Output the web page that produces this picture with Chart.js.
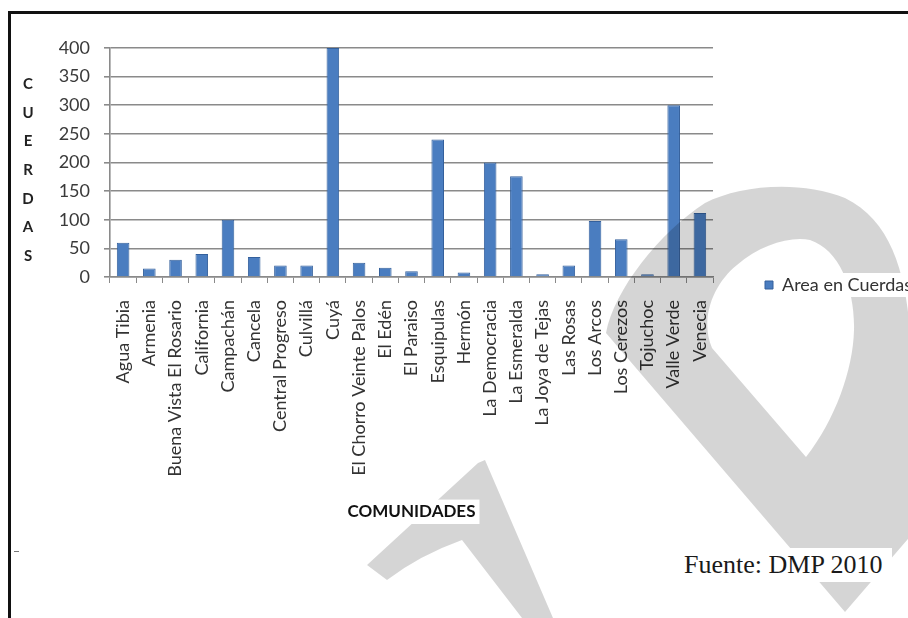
<!DOCTYPE html>
<html>
<head>
<meta charset="utf-8">
<script src="https://cdn.jsdelivr.net/npm/chart.js@4.4.1/dist/chart.umd.min.js"></script>
<style>
  html, body { margin: 0; padding: 0; background: #fff; width: 908px; height: 618px; overflow: hidden; }
  #wrap { position: absolute; left: 0; top: 0; width: 922px; height: 618px; }
  .frame-top { position: absolute; left: 8px; top: 11px; width: 900px; height: 3px; background: #111; }
  .frame-left { position: absolute; left: 8px; top: 11px; width: 3px; height: 607px; background: #111; }
  .dash { position: absolute; left: 14px; top: 551px; width: 5px; height: 1px; background: #777; }
  #ytitle { position: absolute; left: 16px; top: 69px; width: 24px; text-align: center;
            font: bold 15px Lato, sans-serif; color: #222; }
  #ytitle div { height: 28.67px; line-height: 28.67px; }
  #fuente { position: absolute; left: 674px; top: 548px; padding: 1px 10px; background: #fff;
            font: 26px "Liberation Serif", serif; line-height: 32px; color: #1a1a1a; }
</style>
</head>
<body>
<div id="wrap"><canvas id="chart"></canvas></div>
<div class="frame-top"></div>
<div class="frame-left"></div>
<div class="dash"></div>
<div id="ytitle"></div>
<div id="fuente">Fuente: DMP 2010</div>
<script>
// datos del grafico
const comunidades = ['Agua Tibia', 'Armenia', 'Buena Vista El Rosario', 'California', 'Campachán',
  'Cancela', 'Central Progreso', 'Culvillá', 'Cuyá', 'El Chorro Veinte Palos', 'El Edén',
  'El Paraiso', 'Esquipulas', 'Hermón', 'La Democracia', 'La Esmeralda', 'La Joya de Tejas',
  'Las Rosas', 'Los Arcos', 'Los Cerezos', 'Tojuchoc', 'Valle Verde', 'Venecia'];
const areaCuerdas = [60, 15, 30, 40, 100, 35, 20, 20, 400, 25, 16, 10, 240, 8, 200, 176, 5,
  20, 98, 66, 5, 300, 112];
const serieNombre = 'Area en Cuerdas';
const ejeY = 'CUERDAS';
const ejeX = 'COMUNIDADES';

document.getElementById('ytitle').innerHTML =
  ejeY.split('').map(l => '<div>' + l + '</div>').join('');

const gris = '#8a8a8a';
const azul = '#4a7dc0';

// marca de agua gris encima de las barras
const marcaAgua = {
  id: 'marcaAgua',
  afterDatasetsDraw(chart) {
    const ctx = chart.ctx;
    ctx.save();
    const p = new Path2D();
    // la "P" grande de la derecha
    p.moveTo(845, 612);
    p.lineTo(606, 333);
    p.bezierCurveTo(614, 290, 660, 232, 705, 203);
    p.bezierCurveTo(740, 185, 800, 180, 845, 198);
    p.bezierCurveTo(890, 220, 905, 270, 910, 330);
    p.bezierCurveTo(915, 400, 925, 470, 920, 525);
    p.closePath();
    // hueco
    p.moveTo(806, 457);
    p.lineTo(712, 348);
    p.bezierCurveTo(700, 320, 712, 285, 737, 265);
    p.bezierCurveTo(760, 245, 790, 236, 810, 240);
    p.bezierCurveTo(840, 250, 855, 290, 854, 330);
    p.bezierCurveTo(853, 370, 835, 420, 806, 457);
    p.closePath();
    // pata inferior
    p.moveTo(485, 460);
    p.lineTo(553, 618);
    p.lineTo(522, 618);
    p.lineTo(462, 540);
    p.quadraticCurveTo(420, 555, 387, 580);
    p.lineTo(367, 565);
    p.lineTo(478, 463);
    p.closePath();
    ctx.fillStyle = 'rgba(0,0,0,0.165)';
    ctx.fill(p, 'evenodd');

    // cajas blancas del titulo X y la leyenda
    const xs = chart.scales.x;
    const f = Chart.helpers.toFont(xs.options.title.font);
    ctx.font = f.string;
    const tw = ctx.measureText(ejeX).width;
    const tx = (xs.left + xs.right) / 2;
    const ty = xs.bottom - f.lineHeight / 2;
    ctx.fillStyle = '#fff';
    ctx.fillRect(tx - tw / 2 - 4, ty - f.lineHeight / 2 - 2, tw + 8, f.lineHeight + 4);
    ctx.fillStyle = xs.options.title.color;
    ctx.textAlign = 'center';
    ctx.textBaseline = 'middle';
    ctx.fillText(ejeX, tx, ty);

    ctx.fillStyle = '#fff';
    chart.legend.legendHitBoxes.forEach(b => {
      ctx.fillRect(b.left - 4, b.top - 3, b.width + 8, b.height + 6);
    });
    ctx.restore();
    chart.legend.draw();
  }
};

new Chart(document.getElementById('chart'), {
  type: 'bar',
  data: {
    labels: comunidades,
    datasets: [{
      label: serieNombre,
      data: areaCuerdas,
      backgroundColor: azul,
      borderColor: '#34609c',
      borderWidth: 1,
      barPercentage: 0.48,
      categoryPercentage: 1.0
    }]
  },
  options: {
    responsive: true,
    maintainAspectRatio: false,
    animation: false,
    layout: { padding: { top: 48, left: 50, right: 0, bottom: 96 } },
    plugins: {
      tooltip: { enabled: false },
      legend: {
        position: 'right',
        labels: {
          boxWidth: 8,
          boxHeight: 8,
          padding: 52,
          color: '#333',
          font: { family: 'Lato', size: 18 }
        }
      }
    },
    scales: {
      y: {
        min: 0,
        max: 400,
        ticks: { stepSize: 50, padding: 14, color: '#3a3a3a', font: { family: 'Lato', size: 18 } },
        grid: { color: gris, lineWidth: 1.6, tickLength: 6 },
        border: { color: gris, width: 1.6 },
        afterFit(scale) { scale.width = 60; }
      },
      x: {
        ticks: {
          autoSkip: false,
          minRotation: 90,
          maxRotation: 90,
          padding: 17,
          color: '#333',
          font: { family: 'Lato', size: 18 }
        },
        grid: { drawOnChartArea: false, color: gris, tickLength: 6 },
        border: { color: gris, width: 1.6 },
        title: {
          display: true,
          text: ejeX,
          color: '#111',
          padding: 0,
          font: { family: 'Lato', size: 17, weight: 'bold', lineHeight: 1.2 }
        },
        afterFit(scale) { scale.height = 245; }
      }
    }
  },
  plugins: [marcaAgua]
});
</script>
</body>
</html>
